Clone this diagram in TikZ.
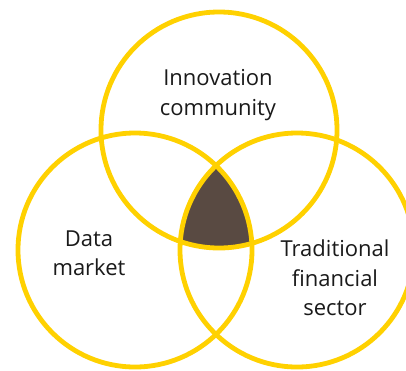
\documentclass[tikz,border=0pt]{standalone}
\usepackage{fontspec}
\setmainfont{Open Sans}
\definecolor{vennyellow}{HTML}{FFD100}
\definecolor{venncore}{HTML}{594A42}
\definecolor{venntext}{HTML}{1A1A1A}
\begin{document}
\begin{tikzpicture}[x=1pt,y=-1pt,
  ring/.style={circle, draw=vennyellow, line width=4.8pt, inner sep=0pt, outer sep=0pt},
  label/.style={align=center, text=venntext, font=\fontsize{22}{29.5}\selectfont, inner sep=0pt}]
\useasboundingbox (0,0) rectangle (406,370);
\clip (0,0) rectangle (406,370);
\fill[white] (0,0) rectangle (406,370);
\begin{scope}
  \clip (219,130) circle (118pt);
  \clip (135,250) circle (117pt);
  \fill[venncore] (297,250) circle (117pt);
\end{scope}
\node[ring, minimum size=236pt] (top) at (219,130) {};
\node[ring, minimum size=234pt] (left) at (135,250) {};
\node[ring, minimum size=234pt] (right) at (297,250) {};
\node[label] (innov) at (218,95) {Innovation\\community};
\node[label] (data) at (89,253) {Data\\market};
\node[label] (trad) at (335,278) {Traditional\\financial\\sector};
\end{tikzpicture}
\end{document}
